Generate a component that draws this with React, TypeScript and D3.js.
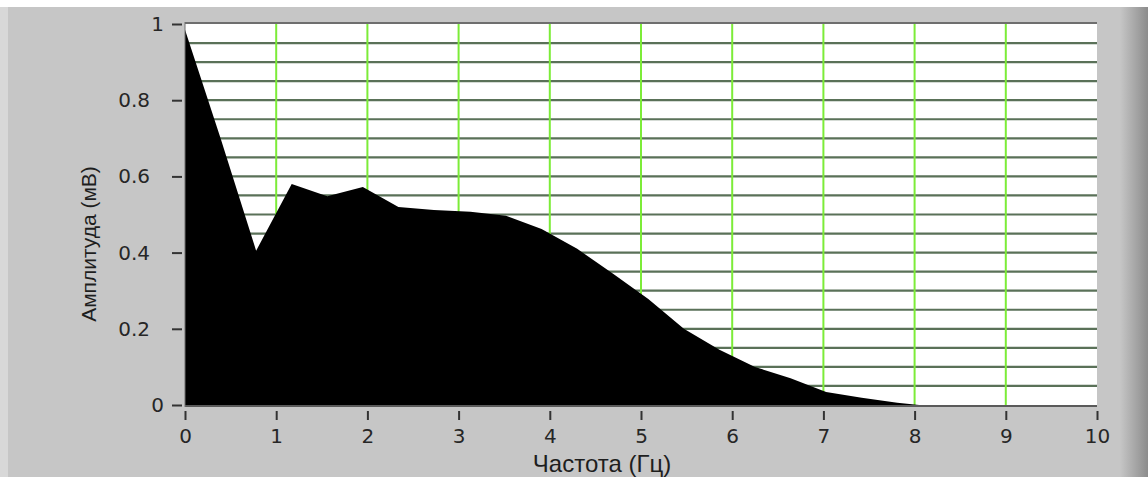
import React, { useRef, useEffect } from 'react';
import * as d3 from 'd3';

// frequency (Hz) and amplitude (mV)
const freq = [0, 0.39, 0.78, 1.17, 1.56, 1.95, 2.34, 2.73, 3.13, 3.52, 3.91, 4.3, 4.69, 5.08, 5.47, 5.86, 6.25, 6.64, 7.03, 7.42, 7.81, 8.05, 10];
const amplitude = [0.985, 0.7, 0.405, 0.58, 0.548, 0.572, 0.52, 0.512, 0.507, 0.497, 0.462, 0.41, 0.345, 0.278, 0.2, 0.145, 0.1, 0.07, 0.034, 0.019, 0.006, 0, 0];

const xTicks = [0, 1, 2, 3, 4, 5, 6, 7, 8, 9, 10];
const yTicks = [0, 0.2, 0.4, 0.6, 0.8, 1];
const yMinorStep = 0.05;

const xTitle = 'Частота (Гц)';
const yTitle = 'Амплитуда (мВ)';

export default function App() {
	const svgWidth = 1148;
	const svgHeight = 484;
	const ref = useRef<SVGSVGElement>(null);

	useEffect(() => {
		if (!ref.current) return;
		const svg = d3.select(ref.current);
		svg.selectAll('*').remove();

		const x = d3.scaleLinear().domain([0, 10]).range([185, 1097]);
		const y = d3.scaleLinear().domain([0, 1]).range([405, 24]);

		/* gray LabVIEW-style panel */
		const defs = svg.append('defs');
		const grad = defs.append('linearGradient').attr('id', 'edge').attr('x1', 0).attr('x2', 1).attr('y1', 0).attr('y2', 0);
		grad.append('stop').attr('offset', '0%').attr('stop-color', '#c6c6c6');
		grad.append('stop').attr('offset', '100%').attr('stop-color', '#8c8c8c');

		svg.append('rect').attr('width', svgWidth).attr('height', svgHeight).attr('fill', '#fff');
		svg.append('rect').attr('x', 0).attr('y', 7).attr('width', svgWidth).attr('height', 470).attr('fill', '#c6c6c6');
		svg.append('rect').attr('x', 0).attr('y', 7).attr('width', 8).attr('height', 470).attr('fill', '#d8d8d8');
		svg.append('rect').attr('x', 1120).attr('y', 7).attr('width', 28).attr('height', 470).attr('fill', 'url(#edge)');

		/* plot background */
		svg.append('rect')
			.attr('x', x(0))
			.attr('y', y(1))
			.attr('width', x(10) - x(0))
			.attr('height', y(0) - y(1))
			.attr('fill', '#fff');

		/* horizontal minor grid every 0.05 */
		const hLines = d3.range(1, Math.round(1 / yMinorStep)).map((i) => i * yMinorStep);
		svg.append('g')
			.selectAll('line')
			.data(hLines)
			.join('line')
			.attr('x1', x(0))
			.attr('x2', x(10))
			.attr('y1', (d) => y(d))
			.attr('y2', (d) => y(d))
			.attr('stroke', '#5a7158')
			.attr('stroke-width', 2.2);

		/* vertical green grid */
		svg.append('g')
			.selectAll('line')
			.data(xTicks.slice(1, -1))
			.join('line')
			.attr('x1', (d) => x(d))
			.attr('x2', (d) => x(d))
			.attr('y1', y(1))
			.attr('y2', y(0))
			.attr('stroke', '#7cec38')
			.attr('stroke-width', 2);

		/* spectrum area */
		const pts = freq.map((f, i) => [f, amplitude[i]] as [number, number]);
		const area = d3
			.area<[number, number]>()
			.x((d) => x(d[0]))
			.y0(y(0))
			.y1((d) => y(d[1]));
		svg.append('path').datum(pts).attr('d', area).attr('fill', '#000');

		/* plot borders */
		svg.append('line').attr('x1', x(0)).attr('x2', x(10)).attr('y1', y(1) - 1).attr('y2', y(1) - 1).attr('stroke', '#6e6e6e').attr('stroke-width', 2);
		svg.append('line').attr('x1', x(0)).attr('x2', x(10)).attr('y1', y(0) + 1).attr('y2', y(0) + 1).attr('stroke', '#5a5a5a').attr('stroke-width', 2);
		svg.append('line').attr('x1', x(0)).attr('x2', x(0)).attr('y1', y(1) - 2).attr('y2', y(0) + 2).attr('stroke', '#6e6e6e').attr('stroke-width', 1);

		/* y axis */
		const yAxis = d3
			.axisLeft(y)
			.tickValues(yTicks)
			.tickSize(10)
			.tickPadding(22)
			.tickFormat((d) => String(d));
		const gy = svg.append('g').attr('transform', 'translate(182,0)').call(yAxis);
		gy.select('.domain').remove();
		gy.selectAll('line').attr('stroke', '#333').attr('stroke-width', 2);
		gy.selectAll('text')
			.attr('font-family', 'DejaVu Sans, sans-serif')
			.attr('font-size', 20)
			.attr('fill', '#262626')
			.attr('x', (d: any) => (d === 0 || d === 1 ? -18 : -32));

		/* x axis */
		const xAxis = d3
			.axisBottom(x)
			.tickValues(xTicks)
			.tickSize(9)
			.tickPadding(9)
			.tickFormat((d) => String(d));
		const gx = svg.append('g').attr('transform', 'translate(0,411)').call(xAxis);
		gx.select('.domain').remove();
		gx.selectAll('line').attr('stroke', '#333').attr('stroke-width', 2);
		gx.selectAll('text').attr('font-family', 'DejaVu Sans, sans-serif').attr('font-size', 20).attr('fill', '#262626');

		/* titles */
		svg.append('text')
			.attr('x', 602)
			.attr('y', 472)
			.attr('text-anchor', 'middle')
			.attr('font-family', 'Liberation Sans, Arial, sans-serif')
			.attr('font-size', 24)
			.attr('fill', '#1e1e1e')
			.text(xTitle);

		svg.append('text')
			.attr('transform', 'translate(96,244) rotate(-90)')
			.attr('text-anchor', 'middle')
			.attr('font-family', 'Liberation Sans, Arial, sans-serif')
			.attr('font-size', 21)
			.attr('fill', '#1e1e1e')
			.text(yTitle);
	}, []);

	return <svg ref={ref} width={svgWidth} height={svgHeight} style={{ position: 'absolute', left: 0, top: 0 }} />;
}
